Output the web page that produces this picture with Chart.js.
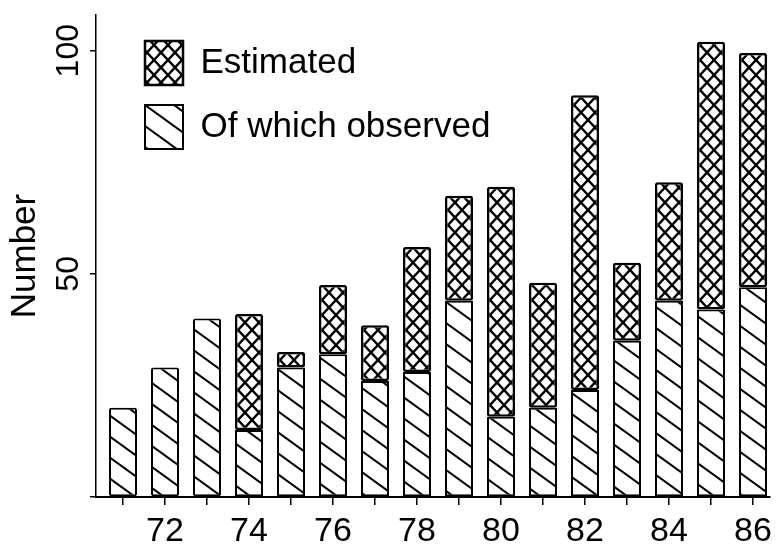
<!DOCTYPE html>
<html>
<head>
<meta charset="utf-8">
<script src="https://cdn.jsdelivr.net/npm/chart.js@4/dist/chart.umd.min.js"></script>
<style>
html,body{margin:0;padding:0;background:#fff;}
#wrap{width:780px;height:544px;position:relative;}
</style>
</head>
<body>
<div id="wrap"><canvas id="c" width="780" height="544"></canvas></div>
<script>
// ---- data ----
const years = [71,72,73,74,75,76,77,78,79,80,81,82,83,84,85,86];
const observed  = [20,29,40,15,29,32,26,28,44,18,20,24,35,44,42,47];
const estimated = [20,29,40,41,32.5,47.5,38.5,56,67.5,69.5,48,90,52.5,70.5,102,99.5];
const xTickLabels = [72,74,76,78,80,82,84,86];
const yTickValues = [0,50,100];
const seriesLabels = ['Of which observed','Estimated'];

// stacked part on top of the observed one
const extra = estimated.map((e,i) => e - observed[i]);

function makeDiag(){
  const W = 29, H = 21;
  const c = document.createElement('canvas'); c.width = W; c.height = H;
  const g = c.getContext('2d');
  g.fillStyle = '#fff'; g.fillRect(0,0,W,H);
  g.strokeStyle = '#000'; g.lineWidth = 2;
  for (const o of [-H,0,H]) {
    g.beginPath(); g.moveTo(-W, o - H); g.lineTo(2*W, o + 2*H); g.stroke();
  }
  return g.createPattern(c,'repeat');
}
function makeCross(){
  const W = 14, H = 15;
  const c = document.createElement('canvas'); c.width = W; c.height = H;
  const g = c.getContext('2d');
  g.fillStyle = '#fff'; g.fillRect(0,0,W,H);
  g.strokeStyle = '#000'; g.lineWidth = 2.4;
  for (const o of [-H,0,H]) {
    g.beginPath(); g.moveTo(-W, o - H); g.lineTo(2*W, o + 2*H); g.stroke();
    g.beginPath(); g.moveTo(-W, H + H + o); g.lineTo(2*W, H - 2*H + o); g.stroke();
  }
  return g.createPattern(c,'repeat');
}

Chart.defaults.font.family = "'Liberation Sans', Arial, Helvetica, sans-serif";
Chart.defaults.color = '#000';

const diag = makeDiag();
const cross = makeCross();

const placeLegend = {
  id: 'placeLegend',
  afterLayout(chart) {
    const l = chart.legend;
    if (!l) return;
    l.left = 125; l.top = 21;
    l.right = l.left + l.width; l.bottom = 540;
  }
};

new Chart(document.getElementById('c'), {
  type: 'bar',
  data: {
    datasets: [
      {
        label: seriesLabels[0],
        data: years.map((y,i) => ({x: y, y: observed[i]})),
        backgroundColor: diag, borderColor: '#000', borderWidth: 2,
        borderSkipped: false, borderRadius: 2, inflateAmount: 0,
        barThickness: 28, stack: 's'
      },
      {
        label: seriesLabels[1],
        data: years.map((y,i) => ({x: y, y: extra[i]})),
        backgroundColor: cross, borderColor: '#000', borderWidth: 2.5,
        borderSkipped: false, borderRadius: 2, inflateAmount: 0,
        barThickness: 28, stack: 's'
      }
    ]
  },
  options: {
    responsive: false, animation: false, devicePixelRatio: 1,
    layout: {padding: {top: 15, right: 10, left: 0, bottom: 0}},
    plugins: {
      tooltip: {enabled: false},
      legend: {
        position: 'chartArea', align: 'start', reverse: true,
        labels: {boxWidth: 38, boxHeight: 44, padding: 20, font: {size: 35}, color: '#000'}
      }
    },
    scales: {
      x: {
        type: 'linear', stacked: true, offset: false,
        min: 70.357, max: 86.405,
        afterBuildTicks: s => { s.ticks = years.map(v => ({value: v})); },
        afterFit: s => { s.height = 47; },
        border: {color: '#000', width: 2},
        grid: {offset: false, drawOnChartArea: false, drawTicks: true, tickLength: 8, color: '#000', lineWidth: 1.5},
        ticks: {
          autoSkip: false, maxRotation: 0, minRotation: 0, padding: 6,
          font: {size: 34},
          callback: v => xTickLabels.includes(v) ? String(v) : ''
        }
      },
      y: {
        stacked: true, min: 0, max: 108,
        afterBuildTicks: s => { s.ticks = yTickValues.map(v => ({value: v})); },
        afterFit: s => { s.width = 96; },
        border: {color: '#000', width: 1.5},
        grid: {drawOnChartArea: false, drawTicks: true, tickLength: 6, color: '#000', lineWidth: 1.5},
        ticks: {
          minRotation: 90, maxRotation: 90, crossAlign: 'center', padding: -6,
          font: {size: 32},
          callback: v => v === 0 ? '' : String(v)
        },
        title: {display: true, text: 'Number', font: {size: 35}, padding: {top: 4, bottom: 0}}
      }
    }
  },
  plugins: [placeLegend]
});
</script>
</body>
</html>
